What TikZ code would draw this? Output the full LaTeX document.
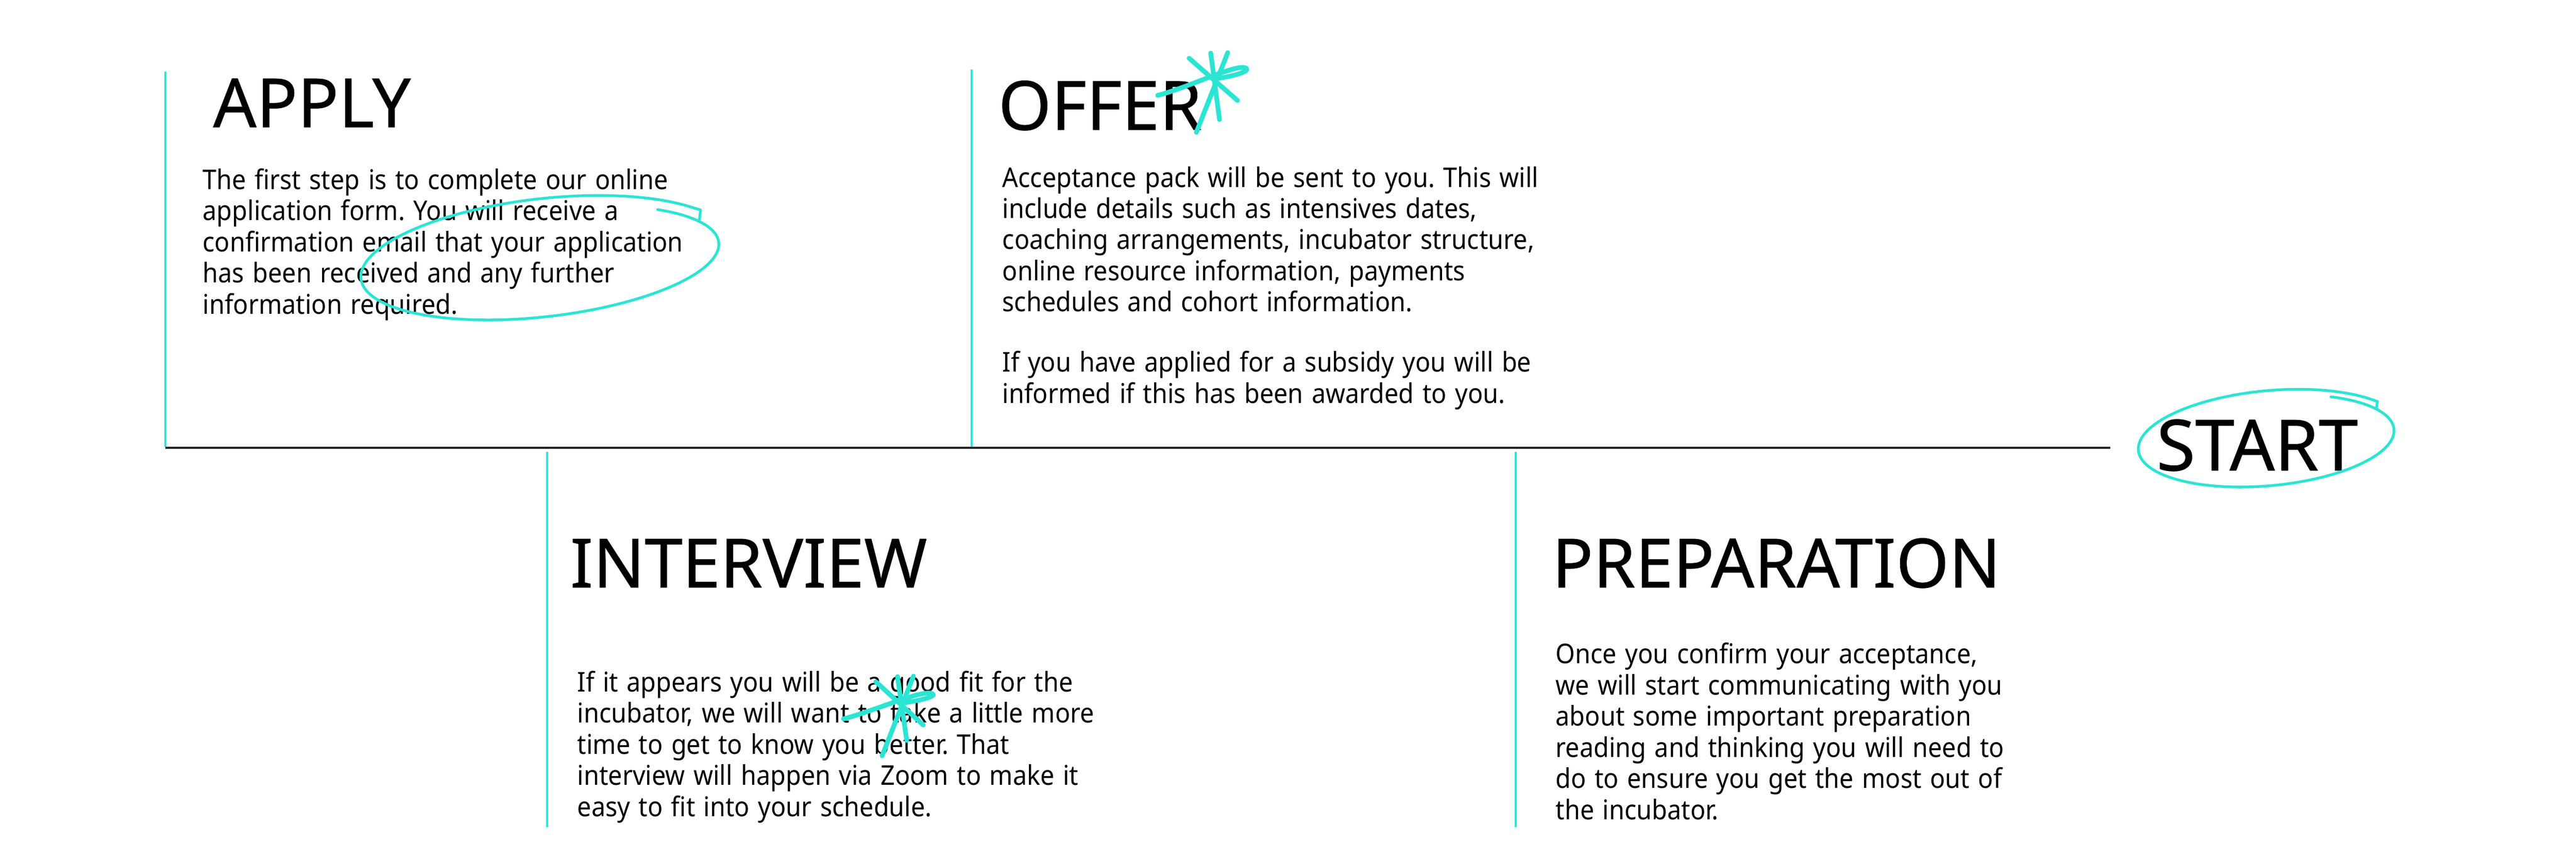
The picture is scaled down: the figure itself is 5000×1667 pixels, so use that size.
\documentclass[tikz,border=0pt]{standalone}
\usepackage{fontspec}
\setmainfont{Noto Sans}
\newfontfamily\bodyfont[FakeStretch=0.92,WordSpace=1.3]{Noto Sans}
\newfontfamily\headfont[FakeBold=0.6]{Noto Sans}
\frenchspacing
\definecolor{aqua}{RGB}{42,229,212}
\definecolor{inkline}{RGB}{35,31,32}
\tikzset{
  heading/.style={anchor=base west,inner sep=0pt,font=\headfont\fontsize{37.5}{40}\selectfont},
  blurb/.style={anchor=base west,inner sep=0pt,align=left,font=\bodyfont\fontsize{15}{17.2}\selectfont},
  stage/.style={draw=aqua,line width=1pt},
  scribble/.style={draw=aqua,line width=1.5pt,line cap=round,line join=round},
  sparkle/.style={draw=aqua,line width=2.6pt,line cap=round,line join=round},
}
\begin{document}
\begin{tikzpicture}[x=0.1mm,y=-0.1mm]
    \useasboundingbox (0,0) rectangle (5000,1667);
    \draw [inkline,line width=1.2pt] (321,869) -- (4096,869);
    \draw [stage] (321,139) -- (321,867);
    \draw [stage] (1886,135) -- (1886,867);
    \draw [stage] (1062,877) -- (1062,1605);
    \draw [stage] (2942,877) -- (2942,1605);
    % text blocks sit on their last baseline
    \node [heading] (apply) at (413,247) {APPLY};
    \node [blurb] (applytext) at (393,609) {The first step is to complete our online\\
        application form. You will receive a\\
        confirmation email that your application\\
        has been received and any further\\
        information required.};
    \node [heading] (offer) at (1937,252) {OFFER};
    \node [blurb] (offertext) at (1945,782) {Acceptance pack will be sent to you. This will\\
        include details such as intensives dates,\\
        coaching arrangements, incubator structure,\\
        online resource information, payments\\
        schedules and cohort information.\\[16pt]
        If you have applied for a subsidy you will be\\
        informed if this has been awarded to you.};
    \node [heading] (interview) at (1106,1140) {INTERVIEW};
    \node [blurb] (interviewtext) at (1120,1584) {If it appears you will be a good fit for the\\
        incubator, we will want to take a little more\\
        time to get to know you better. That\\
        interview will happen via Zoom to make it\\
        easy to fit into your schedule.};
    \node [heading] (prep) at (3012,1140) {PREPARATION};
    \node [blurb] (preptext) at (3019,1590) {Once you confirm your acceptance,\\
        we will start communicating with you\\
        about some important preparation\\
        reading and thinking you will need to\\
        do to ensure you get the most out of\\
        the incubator.};
    \node [heading,font=\headfont\fontsize{39}{42}\selectfont] (start) at (4185,913) {START};
    % hand drawn rings
    \begin{scope}[shift={(1055,505)},rotate=6]
        \draw [scribble] plot[smooth,domain=-47:325,samples=80]
            ({(338+0.08*(\x+47))*cos(\x)},{(102+0.055*(\x+47))*sin(\x)})
            -- ++(12,5) -- ++(-4,18);
    \end{scope}
    \begin{scope}[shift={(4404,853)},rotate=5]
        \draw [scribble] plot[smooth,domain=-58:322,samples=80]
            ({(240+0.06*(\x+58))*cos(\x)},{(85+0.03*(\x+58))*sin(\x)})
            -- ++(9,4) -- ++(-3,13);
    \end{scope}
    % sparkles
    \draw [sparkle] (2308,113) -- (2402,195);
    \draw [sparkle] (2383,102) -- (2322,257);
    \draw [sparkle] (2350,103) -- (2367,232);
    \draw [sparkle] (2247,185) .. controls (2300,172) and (2390,128) .. (2414,131)
        .. controls (2432,134) and (2410,146) .. (2357,153);
    \draw [sparkle] (1700,1323) -- (1792,1407);
    \draw [sparkle] (1773,1312) -- (1712,1467);
    \draw [sparkle] (1742,1313) -- (1760,1437);
    \draw [sparkle] (1637,1395) .. controls (1690,1382) and (1780,1342) .. (1805,1345)
        .. controls (1824,1348) and (1800,1358) .. (1747,1365);
\end{tikzpicture}
\end{document}
